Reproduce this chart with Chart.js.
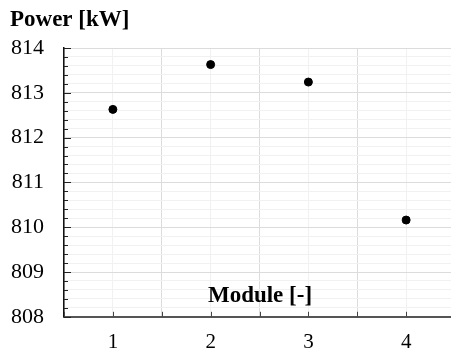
<!DOCTYPE html>
<html>
<head>
<meta charset="utf-8">
<script src="https://cdn.jsdelivr.net/npm/chart.js@4.4.0/dist/chart.umd.min.js"></script>
<style>
  html, body { margin: 0; padding: 0; background: #fff; overflow: hidden; }
  #wrap { position: absolute; left: 0; top: 0; width: 460px; height: 350px; }
</style>
</head>
<body>
<div id="wrap"><canvas id="powerChart"></canvas></div>
<script>
// ===== Datos =====
const modules = [1, 2, 3, 4];
const powerKW = [812.63, 813.63, 813.24, 810.16];
const yTitle = 'Power [kW]';
const xTitle = 'Module [-]';

const serif = "'Liberation Serif', 'Times New Roman', serif";
const isInt = v => Math.abs(v - Math.round(v)) < 1e-6;

// ticks hacia adentro + textos de ejes
const axisDecor = {
  id: 'axisDecor',
  afterDraw(chart) {
    const { ctx, chartArea, scales } = chart;
    const x = scales.x, y = scales.y;
    ctx.save();
    ctx.strokeStyle = '#222';
    ctx.lineWidth = 1;
    // y: mayores y menores
    y.ticks.forEach(t => {
      const py = Math.round(y.getPixelForValue(t.value)) + 0.5;
      const len = isInt(t.value) ? 7 : 4;
      ctx.beginPath();
      ctx.moveTo(chartArea.left, py);
      ctx.lineTo(chartArea.left + len, py);
      ctx.stroke();
    });
    // x
    ctx.strokeStyle = '#444';
    x.ticks.forEach(t => {
      const px = Math.round(x.getPixelForValue(t.value)) + 0.5;
      ctx.beginPath();
      ctx.moveTo(px, chartArea.bottom);
      ctx.lineTo(px, chartArea.bottom - 5);
      ctx.stroke();
    });
    ctx.fillStyle = '#000';
    ctx.font = 'bold 23px ' + serif;
    ctx.textBaseline = 'alphabetic';
    ctx.textAlign = 'left';
    ctx.fillText(yTitle, 10, 26);
    ctx.textAlign = 'center';
    ctx.fillText(xTitle, 260, 302);
    ctx.restore();
  }
};

new Chart(document.getElementById('powerChart'), {
  type: 'scatter',
  data: {
    datasets: [{
      data: modules.map((m, i) => ({ x: m, y: powerKW[i] })),
      backgroundColor: '#000',
      borderColor: '#000',
      pointRadius: 4,
      pointHoverRadius: 4
    }]
  },
  options: {
    responsive: true,
    maintainAspectRatio: false,
    animation: false,
    layout: { padding: { top: 48, left: 0, right: 0, bottom: 0 } },
    plugins: { legend: { display: false }, tooltip: { enabled: false } },
    scales: {
      x: {
        type: 'linear',
        min: 0.5,
        max: 4.5,
        afterFit: s => { s.height = 33; },
        afterBuildTicks: s => {
          s.ticks = [];
          for (let k = 1; k <= 8; k++) s.ticks.push({ value: k / 2 });
        },
        ticks: {
          padding: 13,
          color: '#000',
          font: { family: serif, size: 21 },
          callback: v => isInt(v) ? String(v) : ''
        },
        grid: {
          drawTicks: false,
          color: c => isInt(c.tick.value) ? '#f1f1f1' : '#dcdcdc',
          lineWidth: 1
        },
        border: { color: '#555', width: 2 }
      },
      y: {
        min: 808,
        max: 814,
        afterFit: s => { s.width = 64; },
        afterBuildTicks: s => {
          s.ticks = [];
          for (let k = 0; k <= 30; k++) s.ticks.push({ value: 808 + k * 0.2 });
        },
        ticks: {
          padding: 20,
          color: '#000',
          font: { family: serif, size: 22 },
          autoSkip: false,
          callback: v => isInt(v) ? String(Math.round(v)) : ''
        },
        grid: {
          drawTicks: false,
          color: c => isInt(c.tick.value) ? '#dcdcdc' : '#f1f1f1',
          lineWidth: 1
        },
        border: { color: '#111', width: 1.5 }
      }
    }
  },
  plugins: [axisDecor]
});
</script>
</body>
</html>
